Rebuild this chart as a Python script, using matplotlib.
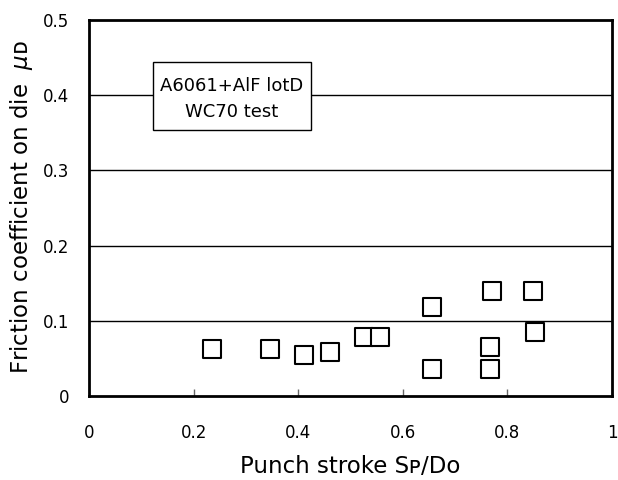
import matplotlib
matplotlib.use("Agg")
import matplotlib.pyplot as plt
from matplotlib.patches import Rectangle

plt.rcParams['font.family'] = ['DejaVu Sans']
plt.rcParams['mathtext.fontset'] = 'dejavusans'

# Measured friction coefficients on the die versus punch stroke
stroke = [0.235, 0.346, 0.411, 0.461, 0.526, 0.557, 0.656, 0.656, 0.771, 0.767, 0.767, 0.848, 0.852]
mu_d = [0.062, 0.062, 0.054, 0.059, 0.078, 0.078, 0.118, 0.036, 0.139, 0.065, 0.036, 0.139, 0.085]

x_ticks = [0, 0.2, 0.4, 0.6, 0.8, 1]
x_tick_labels = ["0", "0.2", "0.4", "0.6", "0.8", "1"]
y_ticks = [0, 0.1, 0.2, 0.3, 0.4, 0.5]
y_tick_labels = ["0", "0.1", "0.2", "0.3", "0.4", "0.5"]

note_lines = ["A6061+AlF lotD", "WC70 test"]

W, H = 618, 480
fig = plt.figure(figsize=(W / 100, H / 100), dpi=100)
ax = fig.add_axes([89 / W, 1 - 396 / H, (612 - 89) / W, (396 - 20) / H])

ax.set_xlim(0, 1)
ax.set_ylim(0, 0.5)

for yv in y_ticks[1:-1]:
    ax.axhline(yv, color='black', lw=1.0, zorder=1)

ax.scatter(stroke, mu_d, marker='s', s=155, facecolors='white', edgecolors='black',
           linewidths=1.5, zorder=3)

ax.set_xticks(x_ticks)
ax.set_xticklabels(x_tick_labels, fontsize=12)
ax.set_yticks(y_ticks)
ax.set_yticklabels(y_tick_labels, fontsize=12)
ax.tick_params(axis='x', direction='in', length=5, width=1, pad=20, color='#666666')
ax.tick_params(axis='y', direction='in', length=0, pad=14)

for s in ax.spines.values():
    s.set_linewidth(2.0)
    s.set_color('black')

# Axis titles placed in figure coordinates (small-capital suffixes sit on the baseline)
fig.text(350 / W, 1 - 473 / H, "Punch stroke S\u1d18/Do", fontsize=16.5,
         ha='center', va='baseline')
fig.text(22 / W, 1 - 207 / H, "Friction coefficient on die  $\\mathit{\\mu}$\u1d05",
         fontsize=16.5, rotation=90, ha='center', va='center')

# Annotation box with the material / test condition
ax.add_patch(Rectangle((0.122, 0.354), 0.302, 0.090, facecolor='white', edgecolor='black',
                       linewidth=1.0, zorder=4))
ax.text(0.273, 0.412, note_lines[0], fontsize=13, ha='center', va='center', zorder=5)
ax.text(0.273, 0.378, note_lines[1], fontsize=13, ha='center', va='center', zorder=5)

fig.savefig("out.png", dpi=100)
